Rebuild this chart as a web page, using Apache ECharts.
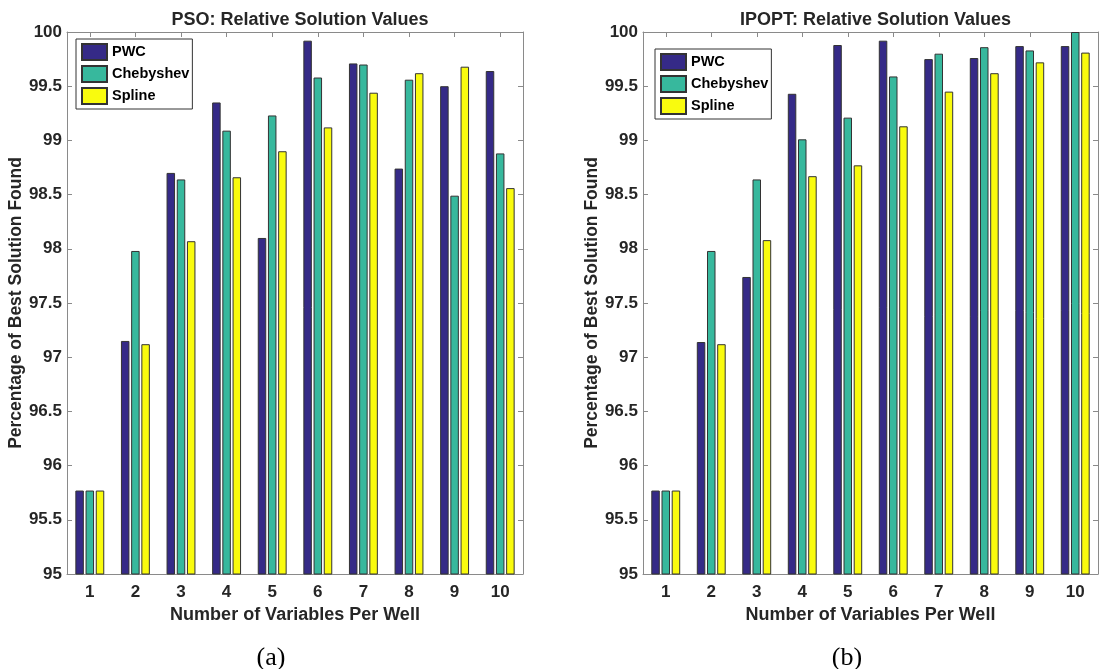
<!DOCTYPE html>
<html>
<head>
<meta charset="utf-8">
<title>Relative Solution Values</title>
<script src="https://cdn.jsdelivr.net/npm/echarts@6/dist/echarts.min.js"></script>
<style>
  html, body { margin: 0; padding: 0; background: #fff; }
  #chart { width: 1099px; height: 669px; }
</style>
</head>
<body>
<div id="chart"></div>
<script>
// Categories: number of control variables per well
const categories = ['1', '2', '3', '4', '5', '6', '7', '8', '9', '10'];
const seriesNames = ['PWC', 'Chebyshev', 'Spline'];
const yTicks = { min: 95, max: 100, interval: 0.5 };

// (a) PSO results, % of best solution found
const psoPWC       = [95.77, 97.15, 98.70, 99.35, 98.10, 99.92, 99.71, 98.74, 99.50, 99.64];
const psoChebyshev = [95.77, 97.98, 98.64, 99.09, 99.23, 99.58, 99.70, 99.56, 98.49, 98.88];
const psoSpline    = [95.77, 97.12, 98.07, 98.66, 98.90, 99.12, 99.44, 99.62, 99.68, 98.56];

// (b) IPOPT results, % of best solution found
const ipoptPWC       = [95.77, 97.14, 97.74, 99.43, 99.88, 99.92, 99.75, 99.76, 99.87, 99.87];
const ipoptChebyshev = [95.77, 97.98, 98.64, 99.01, 99.21, 99.59, 99.80, 99.86, 99.83, 100.0];
const ipoptSpline    = [95.77, 97.12, 98.08, 98.67, 98.77, 99.13, 99.45, 99.62, 99.72, 99.81];

const colors = ['#352a87', '#37b89d', '#f9fb0e'];
const axisGray = '#8a8a8a';
const textColor = '#262626';
const sansBold = { fontFamily: 'Liberation Sans, Arial, sans-serif', fontWeight: 'bold', color: textColor };

const panels = [
  { title: 'PSO: Relative Solution Values', tag: '(a)', grid: { left: 67, top: 32, width: 456, height: 542 },
    legend: { left: 76, top: 39 }, tagX: 266, data: [psoPWC, psoChebyshev, psoSpline] },
  { title: 'IPOPT: Relative Solution Values', tag: '(b)', grid: { left: 643, top: 32, width: 455, height: 542 },
    legend: { left: 655, top: 49 }, tagX: 842, data: [ipoptPWC, ipoptChebyshev, ipoptSpline] }
];

const option = {
  backgroundColor: '#fff',
  animation: false,
  grid: [], xAxis: [], yAxis: [], series: [], legend: [], title: []
};

panels.forEach((p, i) => {
  option.grid.push(Object.assign({ containLabel: false }, p.grid));
  const cx = p.grid.left + p.grid.width / 2;

  option.title.push({
    text: p.title, left: cx, top: 6, textAlign: 'center',
    textStyle: Object.assign({ fontSize: 18 }, sansBold)
  });
  option.title.push({
    text: p.tag, left: p.tagX, top: 640, textAlign: 'center',
    textStyle: { fontFamily: 'Liberation Serif, Times New Roman, serif', fontWeight: 'normal', fontSize: 26, color: '#000' }
  });

  const tickStyle = { show: true, inside: true, length: 5, lineStyle: { color: axisGray, width: 1 } };
  const lineStyle = { show: true, lineStyle: { color: axisGray, width: 1 } };

  // bottom category axis with labels
  option.xAxis.push({
    type: 'category', gridIndex: i, data: categories, position: 'bottom',
    axisLine: lineStyle, axisTick: Object.assign({ alignWithLabel: true }, tickStyle),
    axisLabel: Object.assign({ fontSize: 17, margin: 10 }, sansBold),
    name: 'Number of Variables Per Well', nameLocation: 'middle', nameGap: 32,
    nameTextStyle: Object.assign({ fontSize: 18 }, sansBold),
    splitLine: { show: false }
  });
  // top mirror axis (box + ticks)
  option.xAxis.push({
    type: 'category', gridIndex: i, data: categories, position: 'top',
    axisLine: lineStyle, axisTick: Object.assign({ alignWithLabel: true }, tickStyle),
    axisLabel: { show: false }, splitLine: { show: false }
  });
  // left value axis
  option.yAxis.push({
    type: 'value', gridIndex: i, position: 'left',
    min: yTicks.min, max: yTicks.max, interval: yTicks.interval,
    axisLine: lineStyle, axisTick: tickStyle,
    axisLabel: Object.assign({ fontSize: 17, margin: 5 }, sansBold),
    splitLine: { show: false },
    name: 'Percentage of Best Solution Found', nameLocation: 'middle', nameGap: 41, nameRotate: 90,
    nameTextStyle: Object.assign({ fontSize: 17.5 }, sansBold)
  });
  // right mirror axis
  option.yAxis.push({
    type: 'value', gridIndex: i, position: 'right',
    min: yTicks.min, max: yTicks.max, interval: yTicks.interval,
    axisLine: lineStyle, axisTick: tickStyle,
    axisLabel: { show: false }, splitLine: { show: false }
  });

  p.data.forEach((vals, k) => {
    option.series.push({
      type: 'bar', name: seriesNames[k], data: vals,
      xAxisIndex: i * 2, yAxisIndex: i * 2,
      barWidth: 8.5, barGap: '20%',
      itemStyle: { color: colors[k], borderColor: '#333', borderWidth: 1 }
    });
  });

  option.legend.push({
    orient: 'vertical', left: p.legend.left, top: p.legend.top,
    data: seriesNames, icon: 'rect', itemWidth: 25, itemHeight: 16, itemGap: 4,
    padding: [4, 3, 4, 5], borderColor: '#333', borderWidth: 1, backgroundColor: '#fff',
    selectedMode: false,
    textStyle: Object.assign({ fontSize: 14.5 }, sansBold, { color: '#000' })
  });
});

const chart = echarts.init(document.getElementById('chart'), null, { renderer: 'canvas' });
chart.setOption(option);
</script>
</body>
</html>
